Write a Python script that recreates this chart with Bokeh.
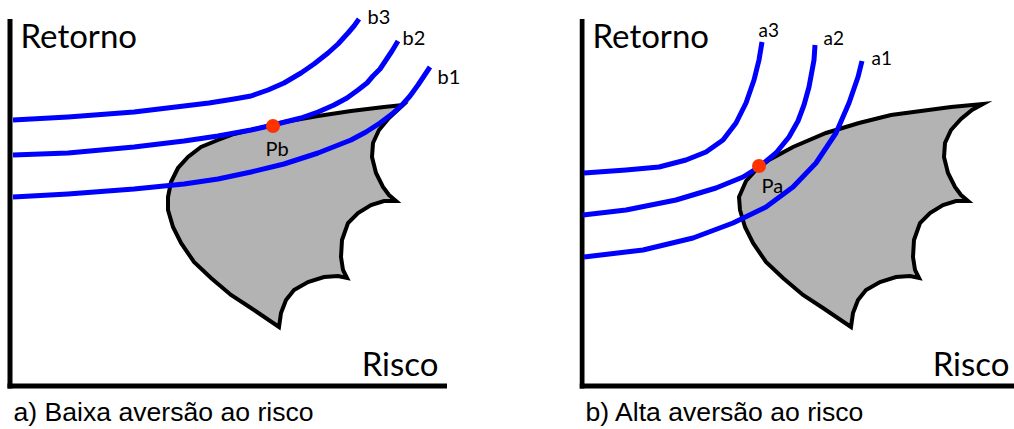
from bokeh.plotting import figure
from bokeh.models import Range1d
from bokeh.layouts import row
from bokeh.core.properties import value
from bokeh.embed import file_html
from bokeh.resources import INLINE

# ---------------- data (risk, return) ----------------
# Panel a) Baixa aversão ao risco
b3_risk = [3, 58, 124, 174, 199, 224, 241, 258, 274, 291, 304, 318, 328, 338, 344, 349]
b3_ret = [266, 269, 274, 280, 283, 287, 290, 296, 303, 313, 322, 333, 342, 353, 360, 367]
b2_risk = [3, 58, 124, 174, 208, 241, 263, 291, 308, 324, 337, 348, 357, 363, 370, 376, 382, 388]
b2_ret = [231, 233, 239, 245, 250, 256, 261, 268, 274, 281, 288, 296, 303, 310, 317, 326, 335, 345]
b1_risk = [3, 58, 124, 174, 208, 241, 274, 308, 341, 356, 370, 382, 392, 400, 408, 420]
b1_ret = [189, 192, 197, 202, 207, 214, 222, 233, 246, 254, 263, 272, 281, 290, 301, 319]
pb_risk = [263]
pb_ret = [260]
region_a_risk = [393, 374, 341, 308, 274, 263, 241, 224, 208, 191, 178, 168, 161, 158, 158,
                 163, 171, 184, 201, 221, 241, 269,
                 271, 276, 284, 298, 314, 328, 337,
                 333, 331, 332, 338, 348, 361, 374, 386,
                 379, 373, 366, 362, 363, 369, 379]
region_a_ret = [281, 279, 275, 270, 264, 261, 256, 252, 246, 239, 229, 218, 204, 189, 176,
                159, 143, 124, 108, 91, 78, 59,
                73, 86, 96, 104, 109, 110, 108,
                116, 129, 146, 163, 173, 181, 185, 185,
                191, 199, 213, 229, 243, 256, 268]

# Panel b) Alta aversão ao risco
a3_risk = [2, 44, 77, 104, 124, 141, 154, 164, 172, 177, 180]
a3_ret = [213, 216, 219, 226, 234, 246, 263, 283, 306, 326, 344]
a2_risk = [1, 44, 94, 134, 161, 177, 194, 207, 216, 222, 227, 232, 233]
a2_ret = [171, 176, 186, 198, 209, 219, 233, 249, 265, 281, 299, 326, 341]
a1_risk = [2, 61, 111, 151, 184, 211, 234, 254, 267, 276, 280]
a1_ret = [129, 136, 148, 163, 179, 199, 223, 253, 283, 309, 325]
pa_risk = [177]
pa_ret = [220]
region_b_risk = [401, 369, 339, 309, 277, 244, 211, 187, 174, 164, 157,
                 158, 163, 171, 184, 201, 221, 241, 269,
                 271, 276, 284, 298, 314, 328, 337,
                 333, 331, 332, 338, 348, 361, 374, 386,
                 379, 373, 366, 362, 363, 369, 379, 390]
region_b_ret = [282, 279, 275, 271, 263, 253, 239, 226, 216, 205, 189,
                176, 159, 143, 124, 108, 91, 78, 59,
                73, 86, 96, 104, 109, 110, 108,
                116, 129, 146, 163, 173, 181, 185, 185,
                191, 199, 213, 229, 243, 256, 267, 276]

# axes extents
axis_a_risk_max = 437
axis_b_risk_max = 433
axis_ret_max = 367

curve_labels_a = ["b3", "b2", "b1"]
curve_labels_b = ["a3", "a2", "a1"]
point_label_a = "Pb"
point_label_b = "Pa"
y_title = "Retorno"
x_title = "Risco"
caption_a = "a) Baixa aversão ao risco"
caption_b = "b) Alta aversão ao risco"

BLUE = "#0000ff"
RED = "#ff3300"
GRAY = "#b3b3b3"
GEO = value("Lato")
CAP = value("Liberation Sans")
SHIFT = 0.4  # baseline correction, fraction of font size


def base(width, x0, x1):
    p = figure(width=width, height=429, x_range=Range1d(x0, x1), y_range=Range1d(-43.5, 385.5),
               output_backend="svg", toolbar_location=None, min_border=0,
               x_axis_location=None, y_axis_location=None,
               background_fill_color="white", border_fill_color="white")
    p.outline_line_color = None
    p.grid.grid_line_color = None
    return p


def label(p, x, y, txt, font, size, align="left"):
    p.text([x], [y + SHIFT * size], text=[txt], text_font=font, text_font_size=f"{size}px",
           text_baseline="alphabetic", text_align=align, text_color="black")


def panel(p, curves, labels, label_pos, label_size, pt, pt_label, pt_label_pos,
          region, axis_max, caption, risco_x):
    # axes
    p.segment(x0=[0, -2.5], y0=[-2.5, 0], x1=[0, axis_max], y1=[axis_ret_max, 0],
              line_color="black", line_width=5, line_cap="butt")
    # region
    p.patch(region[0], region[1], fill_color=GRAY, line_color="black", line_width=4,
            line_join="miter")
    # curves
    for rx, ry in curves:
        p.line(rx, ry, line_color=BLUE, line_width=5, line_join="round")
    p.scatter(pt[0], pt[1], size=14, fill_color=RED, line_color=None)
    # labels
    for lab, (lx, ly) in zip(labels, label_pos):
        label(p, lx, ly, lab, GEO, label_size)
    label(p, pt_label_pos[0], pt_label_pos[1], pt_label, GEO, 20)
    label(p, 10.5, 337.5, y_title, GEO, 33)
    label(p, risco_x, 9.5, x_title, GEO, 33, align="right")
    label(p, 3.5, -36.5, caption, CAP, 26.6)


pa_fig = base(579, -9.5, 569.5)
panel(pa_fig,
      [(b3_risk, b3_ret), (b2_risk, b2_ret), (b1_risk, b1_ret)],
      curve_labels_a, [(357.5, 362.5), (392.5, 341.5), (427.5, 302.5)], 20,
      (pb_risk, pb_ret), point_label_a, (255.5, 230.5),
      (region_a_risk, region_a_ret), axis_a_risk_max, caption_a, 428.5)

pb_fig = base(435, -2.5, 432.5)
panel(pb_fig,
      [(a3_risk, a3_ret), (a2_risk, a2_ret), (a1_risk, a1_ret)],
      curve_labels_b, [(176.5, 348.5), (241.5, 340.5), (289.5, 320.5)], 19,
      (pa_risk, pa_ret), point_label_b, (179.5, 193.5),
      (region_b_risk, region_b_ret), axis_b_risk_max, caption_b, 427.5)

layout = row(pa_fig, pb_fig)
open("out.html", "w").write(file_html(layout, INLINE))
